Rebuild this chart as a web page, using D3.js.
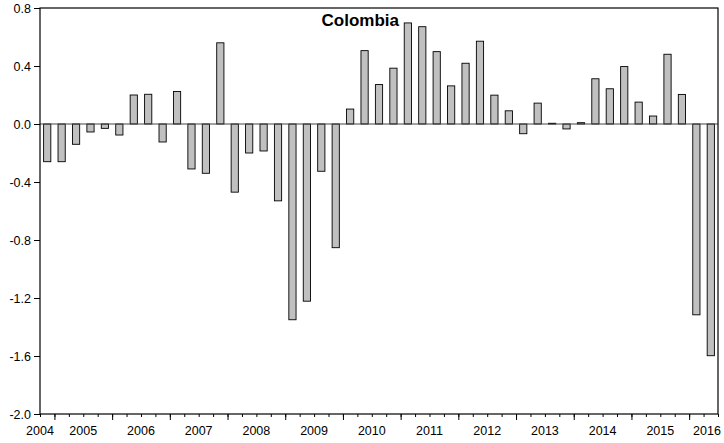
<!DOCTYPE html>
<html>
<head>
<meta charset="utf-8">
<script src="https://cdn.jsdelivr.net/npm/d3@7"></script>
<style>
    body { margin: 0; background: #fff; }
    svg text { font-family: "Liberation Sans", Arial, sans-serif; fill: #000; }
</style>
</head>
<body>
<div id="chart"></div>
<script>
// quarterly series, 2004Q4 .. 2016Q2
const startYear = 2004, startQuarter = 4;
const values = [
    -0.26,
    -0.26, -0.14, -0.055, -0.03,
    -0.076, 0.20, 0.205, -0.124,
    0.224, -0.31, -0.34, 0.56,
    -0.47, -0.20, -0.186, -0.53,
    -1.35, -1.222, -0.326, -0.853,
    0.103, 0.506, 0.272, 0.385,
    0.697, 0.671, 0.499, 0.263,
    0.419, 0.571, 0.199, 0.091,
    -0.067, 0.144, 0.005, -0.034,
    0.009, 0.312, 0.243, 0.396,
    0.151, 0.055, 0.481, 0.204,
    -1.316, -1.598
];
const yTicks = [-2.0, -1.6, -1.2, -0.8, -0.4, 0.0, 0.4, 0.8];
const yearLabels = [2004, 2005, 2006, 2007, 2008, 2009, 2010, 2011, 2012, 2013, 2014, 2015, 2016];
const title = "Colombia";

const W = 724, H = 443;
const margin = {top: 8, right: 6, bottom: 29, left: 40};
const width = W - margin.left - margin.right;
const height = H - margin.top - margin.bottom;

// time in fractional years, each quarter is 0.25
const data = values.map((v, i) => ({ t: startYear + (startQuarter - 1) / 4 + i * 0.25, value: v }));
const t0 = data[0].t, t1 = data[data.length - 1].t + 0.25;

const svg = d3.select("#chart").append("svg")
    .attr("width", W)
    .attr("height", H);

const g = svg.append("g")
    .attr("transform", "translate(" + margin.left + "," + margin.top + ")");

const x = d3.scaleLinear().domain([t0, t1]).range([0, width]);
const y = d3.scaleLinear().domain([-2.0, 0.8]).range([height, 0]);

const qw = x(0.25) - x(0);

// bars
g.selectAll("rect.bar")
    .data(data)
    .enter()
    .append("rect")
    .attr("class", "bar")
    .attr("x", d => x(d.t + 0.125) - qw * 0.25)
    .attr("width", qw * 0.5)
    .attr("y", d => y(Math.max(0, d.value)))
    .attr("height", d => Math.max(0.6, Math.abs(y(d.value) - y(0))))
    .attr("fill", "#c0c0c0")
    .attr("stroke", "#000")
    .attr("stroke-width", 0.9);

// zero line
g.append("line")
    .attr("x1", 0).attr("x2", width)
    .attr("y1", y(0)).attr("y2", y(0))
    .attr("stroke", "#444")
    .attr("stroke-width", 1);

// frame
g.append("rect")
    .attr("width", width)
    .attr("height", height)
    .attr("fill", "none")
    .attr("stroke", "#000")
    .attr("stroke-width", 1.2);

// y axis
const yAxis = d3.axisLeft(y)
    .tickValues(yTicks)
    .tickSize(6)
    .tickPadding(3)
    .tickFormat(d => d.toFixed(1).replace("-0.0", "0.0"));

g.append("g").attr("class", "y-axis").call(yAxis)
    .call(a => a.select(".domain").remove())
    .call(a => a.selectAll("line").attr("stroke", "#000"))
    .call(a => a.selectAll("text").attr("font-size", 12.5));

// x axis: quarter ticks short, year ticks long
const quarterTicks = d3.range(0, Math.round((t1 - t0) * 4) + 1).map(i => t0 + i * 0.25);
const yearTicks = quarterTicks.filter(t => Math.abs(t - Math.round(t)) < 1e-6);

g.append("g")
    .attr("transform", "translate(0," + height + ")")
    .call(d3.axisBottom(x).tickValues(quarterTicks).tickSize(3).tickFormat(""))
    .call(a => a.select(".domain").remove())
    .call(a => a.selectAll("line").attr("stroke", "#000"));

g.append("g")
    .attr("transform", "translate(0," + height + ")")
    .call(d3.axisBottom(x).tickValues(yearTicks).tickSize(6).tickFormat(""))
    .call(a => a.select(".domain").remove())
    .call(a => a.selectAll("line").attr("stroke", "#000"));

// year labels in the middle of each year, kept inside the window
g.selectAll("text.year")
    .data(yearLabels)
    .enter()
    .append("text")
    .attr("class", "year")
    .attr("x", d => Math.min(Math.max(x(d + 0.5), 0), width - 11))
    .attr("y", height + 21)
    .attr("text-anchor", "middle")
    .attr("font-size", 12.5)
    .text(d => d);

// title
g.append("text")
    .attr("x", x(2010.3))
    .attr("y", 18)
    .attr("text-anchor", "middle")
    .attr("font-size", 17)
    .attr("font-weight", "bold")
    .text(title);
</script>
</body>
</html>
